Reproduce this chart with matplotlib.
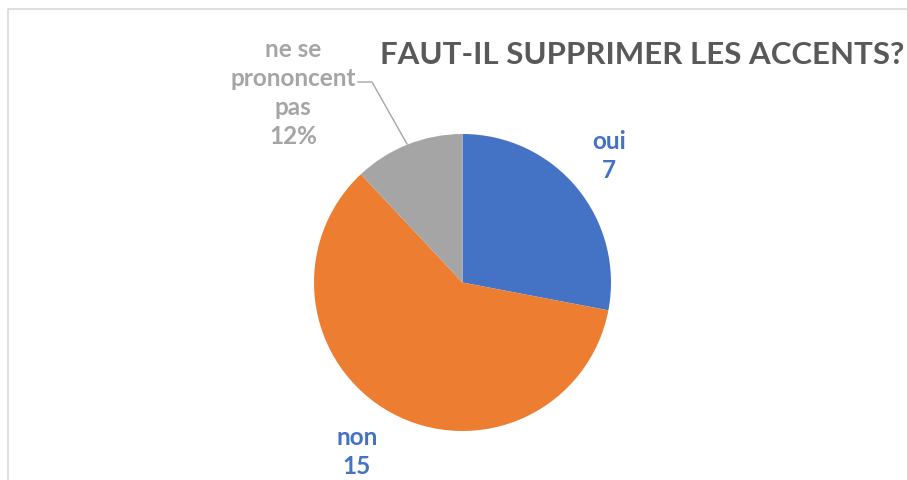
import matplotlib
matplotlib.use("Agg")
import matplotlib.pyplot as plt

# data
labels = ["oui", "non", "ne se\nprononcent\npas"]
values = [7, 15, 3]
colors = ["#4472C4", "#ED7D31", "#A5A5A5"]
title = "FAUT-IL SUPPRIMER LES ACCENTS?"

W, H = 907, 481
plt.rcParams['font.family'] = ['Lato', 'DejaVu Sans']

fig = plt.figure(figsize=(W / 100, H / 100), dpi=100)
ax = fig.add_axes([0, 0, 1, 1])

# chart frame (cut by the image edges)
ax.plot([8, 8, W + 5], [-5, H - 10, H - 10], color="#D9D9D9", lw=1.2)

total = sum(values)
ax.pie(values, colors=colors, startangle=90, counterclock=False,
       center=(462.5, H - 283.5), radius=148.5, frame=True,
       wedgeprops=dict(linewidth=0))
ax.set_xlim(0, W)
ax.set_ylim(0, H)
ax.set_aspect("equal")
ax.axis("off")

lab_font = dict(fontsize=17.5, fontweight="bold", ha="center", va="center",
                linespacing=1.3)
ax.text(609, H - 156, f"{labels[0]}\n{values[0]}", color="#4472C4", **lab_font)
ax.text(357, H - 452, f"{labels[1]}\n{values[1]}", color="#4472C4", **lab_font)
pct = round(values[2] / total * 100)
ax.text(293, H - 93, f"{labels[2]}\n{pct}%", color="#A5A5A5", **lab_font)
ax.plot([358, 372, 407], [H - 83, H - 83, H - 145], color="#A5A5A5", lw=1)

ax.text(904, H - 55, title, color="#595959", fontsize=22.5, fontweight="bold",
        ha="right", va="center")

fig.savefig("out.png", dpi=100)
